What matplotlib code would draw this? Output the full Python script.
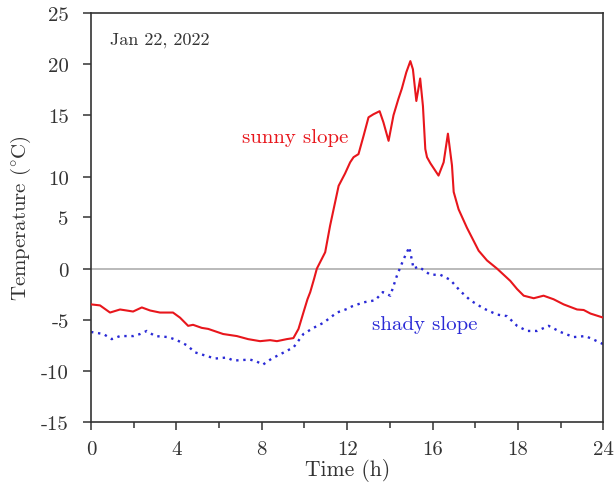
import matplotlib
matplotlib.use("Agg")
import matplotlib.pyplot as plt

plt.rcParams['font.family'] = ['cmr10', 'DejaVu Serif']
plt.rcParams['mathtext.fontset'] = 'cm'
plt.rcParams['axes.unicode_minus'] = False

# sunny slope
sunny_t = [0.0, 0.42, 0.89, 1.36, 1.67, 1.97, 2.38, 2.77, 3.23, 3.84, 4.17, 4.55, 4.78,
           5.19, 5.49, 6.19, 6.83, 7.36, 7.92, 8.39, 8.71, 9.17, 9.48, 9.72, 9.95, 10.14,
           10.27, 10.45, 10.58, 10.97, 11.2, 11.6, 11.9, 12.14, 12.3, 12.53, 12.77, 13.0,
           13.23, 13.52, 13.7, 13.94, 14.17, 14.4, 14.56, 14.77, 14.96, 15.08, 15.24,
           15.42, 15.55, 15.66, 15.74, 15.9, 16.28, 16.52, 16.72, 16.91, 16.99, 17.22,
           17.61, 18.16, 18.55, 19.02, 19.64, 19.96, 20.27, 20.74, 21.2, 21.67, 22.14,
           22.77, 23.08, 23.4, 24.0]
sunny_temp = [-3.5, -3.6, -4.3, -4.0, -4.1, -4.2, -3.8, -4.1, -4.3, -4.3, -4.8, -5.6, -5.5,
              -5.8, -5.9, -6.4, -6.6, -6.9, -7.1, -7.0, -7.1, -6.9, -6.8, -5.9, -4.3, -3.0,
              -2.3, -1.0, 0.0, 1.6, 4.2, 8.1, 9.3, 10.4, 10.9, 11.2, 13.0, 14.8,
              15.1, 15.4, 14.3, 12.5, 15.0, 16.6, 17.6, 19.2, 20.3, 19.5, 16.4,
              18.6, 15.9, 11.7, 10.9, 10.3, 9.1, 10.4, 13.2, 10.1, 7.5, 5.8,
              4.0, 1.75, 0.8, 0.0, -1.2, -2.0, -2.65, -2.9, -2.65, -3.0, -3.5,
              -4.0, -4.05, -4.4, -4.8]

# shady slope
shady_t = [0.0, 0.58, 0.97, 1.36, 1.98, 2.3, 2.61, 3.0, 3.62, 4.02, 4.49, 4.88, 5.34, 5.81,
           6.36, 6.67, 7.45, 7.77, 8.05, 8.47, 8.94, 9.49, 9.95, 10.42, 10.89, 11.52, 12.06,
           12.22, 12.77, 13.31, 13.67, 14.02, 14.33, 14.64, 14.91, 15.11, 15.34, 15.89,
           16.36, 16.83, 17.3, 17.77, 18.39, 19.02, 19.49, 19.96, 20.43, 20.9, 21.44,
           21.99, 22.61, 23.16, 23.55, 24.0]
shady_temp = [-6.2, -6.4, -6.9, -6.6, -6.6, -6.4, -6.1, -6.6, -6.7, -7.0, -7.5, -8.2, -8.5, -8.8,
              -8.7, -9.0, -8.9, -9.1, -9.4, -8.8, -8.3, -7.7, -6.4, -5.8, -5.3, -4.3, -3.9,
              -3.7, -3.3, -3.1, -2.3, -2.65, -0.7, 0.9, 2.1, 0.0, 0.2, -0.6,
              -0.6, -1.1, -2.2, -3.1, -3.9, -4.5, -4.65, -5.6, -6.1, -6.1, -5.6,
              -6.2, -6.7, -6.6, -6.95, -7.4]

x_ticks = [0, 4, 8, 12, 16, 20, 24]
x_ticklabels = ['0', '4', '8', '12', '16', '18', '24']
y_ticks = [-15, -10, -5, 0, 5, 9.0, 15, 20, 25]
y_ticklabels = ['-15', '-10', '-5', '0', '5', '10', '15', '20', '25']

fig = plt.figure(figsize=(6.15, 4.85), dpi=100)
ax = fig.add_axes([0.148, 0.128, 0.833, 0.843])

ax.axhline(0, color='#b4b4b4', lw=1.3, zorder=1)
ax.plot(sunny_t, sunny_temp, color='#e8161c', lw=1.5, zorder=3)
ax.plot(shady_t, shady_temp, color='#2a2ad6', lw=1.7, linestyle=(0, (1, 2)), zorder=2)

ax.set_xlim(0, 24)
ax.set_ylim(-15, 25)
ax.set_xticks(x_ticks)
ax.set_xticklabels(x_ticklabels)
ax.set_xticks(range(2, 24, 4), minor=True)
ax.set_yticks(y_ticks)
ax.set_yticklabels(y_ticklabels)
ax.tick_params(which='both', direction='out', length=6, width=1.1, labelsize=15,
               color='#333333', labelcolor='#333333')
ax.tick_params(axis='y', pad=10)
ax.tick_params(axis='x', pad=7)
ax.tick_params(which='minor', length=4)

for s in ax.spines.values():
    s.set_linewidth(1.2)
    s.set_color('#333333')

ax.set_xlabel('Time (h)', fontsize=15.5, labelpad=0, color='#333333')
ax.set_ylabel(r'Temperature ($^{\circ}$C)', fontsize=15, labelpad=6, color='#333333')

ax.text(0.9, 22.4, 'Jan 22, 2022', fontsize=13, va='center', ha='left', color='#333333')
ax.text(9.55, 12.9, 'sunny slope', fontsize=15, va='center', ha='center', color='#e8161c')
ax.text(15.65, -5.4, 'shady slope', fontsize=15, va='center', ha='center', color='#2a2ad6')

fig.savefig('out.png', dpi=100)
